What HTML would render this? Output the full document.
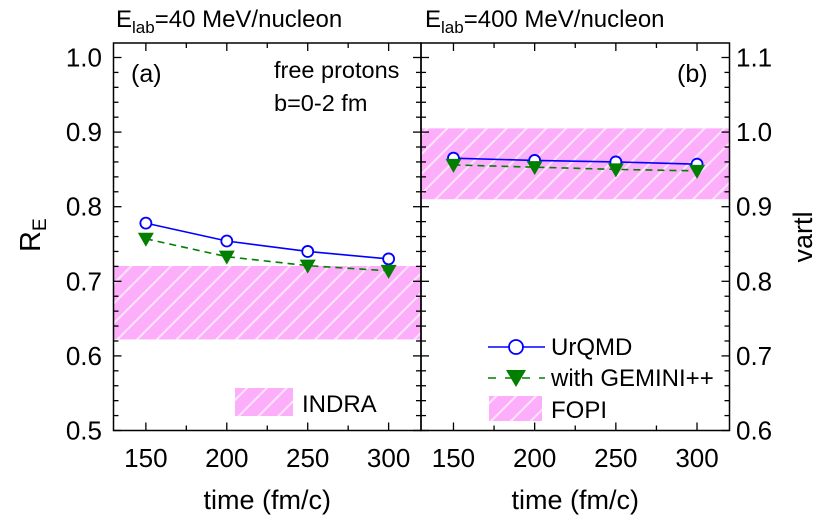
<!DOCTYPE html>
<html><head><meta charset="utf-8"><style>
body{margin:0;background:#fff;}
svg{display:block;font-family:"Liberation Sans",Arial,sans-serif;}
</style></head><body>
<svg id="chart" width="830" height="525" viewBox="0 0 830 525">
<defs>
<pattern id="hatch" patternUnits="userSpaceOnUse" width="14" height="14" patternTransform="rotate(45)">
<rect width="14" height="14" fill="#fdaefb"/>
<rect x="0" y="0" width="2" height="14" fill="#ffe4fe"/>
</pattern>
</defs>
<g id="layer"></g>
</svg>
<script>
const times = [150, 200, 250, 300];
const urqmdA = [0.778, 0.754, 0.740, 0.730];
const geminiA = [0.757, 0.733, 0.721, 0.714];
const urqmdB = [0.965, 0.962, 0.960, 0.957];
const geminiB = [0.956, 0.953, 0.950, 0.948];
const indraBand = [0.622, 0.7205];
const fopiBand = [0.91, 1.005];
const xTicks = [150, 200, 250, 300];
const yTicksA = [0.5, 0.6, 0.7, 0.8, 0.9, 1.0];
const yTicksB = [0.6, 0.7, 0.8, 0.9, 1.0, 1.1];

const NS = "http://www.w3.org/2000/svg";
const g = document.getElementById('layer');
const TOP = 43, BOT = 430.5, PX = 746;
const panels = [{x0:113.5,x1:421,ymin:0.5},{x0:421,x1:729.5,ymin:0.6}];
function mk(tag, attrs, parent){const e=document.createElementNS(NS,tag);for(const k in attrs)e.setAttribute(k,attrs[k]);(parent||g).appendChild(e);return e;}
function xs(p,t){return panels[p].x0 + (t-130)/190*(panels[p].x1-panels[p].x0);}
function ys(p,v){return BOT - (v-panels[p].ymin)*PX;}

function band(p, b, name){
  const r = mk('rect',{x:panels[p].x0,y:ys(p,b[1]),width:panels[p].x1-panels[p].x0,height:ys(p,b[0])-ys(p,b[1]),fill:'url(#hatch)'});
  
  
}
band(0, indraBand, 'indra-band');
band(1, fopiBand, 'fopi-band');

function series(p, vals, kind, name){
  const pts = vals.map((v,i)=>xs(p,times[i])+','+ys(p,v)).join(' ');
  const l = mk('polyline',{points:pts,fill:'none',stroke:kind==='c'?'#0000ff':'#007f00','stroke-width':1.6,'stroke-dasharray':kind==='c'?'':'7,5'});
  
  
  vals.forEach((v,i)=>{
    const x=xs(p,times[i]), y=ys(p,v);
    let m;
    if(kind==='c') m = mk('circle',{cx:x,cy:y,r:5.5,fill:'#fff',stroke:'#0000ff','stroke-width':1.8});
    else m = mk('polygon',{points:`${x-8},${y-6} ${x+8},${y-6} ${x},${y+8}`,fill:'#007f00'});
    
    
  });
}
series(0, urqmdA, 'c', 'urqmd-a');
series(0, geminiA, 't', 'gemini-a');
series(1, urqmdB, 'c', 'urqmd-b');
series(1, geminiB, 't', 'gemini-b');

panels.forEach((P,p)=>{
  const f = mk('rect',{x:P.x0,y:TOP,width:P.x1-P.x0,height:BOT-TOP,fill:'none',stroke:'#000','stroke-width':1.5});
  
  
  for(let t=150;t<=300;t+=25){
    const x=xs(p,t), len = t%50===0?8:5;
    mk('line',{x1:x,y1:BOT,x2:x,y2:BOT-len,stroke:'#000','stroke-width':1.3});
    mk('line',{x1:x,y1:TOP,x2:x,y2:TOP+len,stroke:'#000','stroke-width':1.3});
  }
  xTicks.forEach(t=>{
    const tx = mk('text',{x:xs(p,t),y:467,'font-size':26,'text-anchor':'middle'});
    tx.textContent = t;
    
    
  });
  for(let k=0;k<=25;k++){
    const v = P.ymin + k*0.02, y = ys(p,v);
    if(y<TOP) break;
    const len = k%5===0?8:5;
    mk('line',{x1:P.x0,y1:y,x2:P.x0+len,y2:y,stroke:'#000','stroke-width':1.3});
    mk('line',{x1:P.x1,y1:y,x2:P.x1-len,y2:y,stroke:'#000','stroke-width':1.3});
  }
  const xl = mk('text',{x:(P.x0+P.x1)/2,y:509,'font-size':27,'text-anchor':'middle'});
  xl.textContent='time (fm/c)';
  
  
});
yTicksA.forEach(v=>{
  const t = mk('text',{x:102,y:ys(0,v)+9,'font-size':26,'text-anchor':'end'});
  t.textContent=v.toFixed(1);
  
  
});
yTicksB.forEach(v=>{
  const t = mk('text',{x:736,y:ys(1,v)+9,'font-size':26,'text-anchor':'start'});
  t.textContent=v.toFixed(1);
  
  
});
</script>
<svg width="830" height="525" style="position:absolute;left:0;top:0" font-family="Liberation Sans, Arial, sans-serif">
<text x="116" y="27" font-size="24">E<tspan font-size="17" dy="6">lab</tspan><tspan dy="-6">=40 MeV/nucleon</tspan></text>
<text x="425" y="27" font-size="24">E<tspan font-size="17" dy="6">lab</tspan><tspan dy="-6">=400 MeV/nucleon</tspan></text>
<text transform="translate(40,252) rotate(-90)" font-size="29">R<tspan font-size="19" dy="6">E</tspan></text>
<text transform="translate(812,237) rotate(-90)" font-size="27" text-anchor="middle">vartl</text>
<text x="131" y="82" font-size="25">(a)</text>
<text x="677" y="82" font-size="25">(b)</text>
<text x="274" y="78" font-size="23.5">free protons</text>
<text x="274" y="111" font-size="23.5">b=0-2 fm</text>
<g>
<rect x="235" y="388" width="58" height="28" fill="url(#hatch)"/>
<text x="302" y="412" font-size="24">INDRA</text></g>
<g>
<line x1="488" y1="347" x2="545" y2="347" stroke="#00f" stroke-width="1.6"/>
<circle cx="516" cy="347" r="7" fill="#fff" stroke="#00f" stroke-width="1.8"/>
<text x="551" y="355" font-size="24">UrQMD</text></g>
<g>
<line x1="488" y1="378" x2="545" y2="378" stroke="#007f00" stroke-width="1.6" stroke-dasharray="8,9"/>
<polygon points="506,370 526,370 516,387" fill="#007f00"/>
<text x="551" y="386" font-size="24">with GEMINI++</text></g>
<g>
<rect x="489" y="396" width="53" height="25" fill="url(#hatch)"/>
<text x="551" y="418" font-size="24">FOPI</text></g>
</svg>
</body></html>
